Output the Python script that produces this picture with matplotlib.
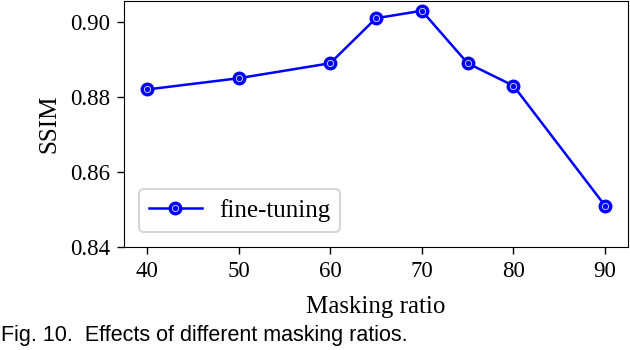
import matplotlib
matplotlib.use("Agg")
import matplotlib.pyplot as plt
from matplotlib.legend_handler import HandlerTuple

plt.rcParams['font.family'] = ['Liberation Serif', 'DejaVu Serif']
plt.rcParams['font.size'] = 18

ratios = [40, 50, 60, 65, 70, 75, 80, 90]
ssim = [0.882, 0.885, 0.889, 0.901, 0.903, 0.889, 0.883, 0.851]
yticks = [0.84, 0.86, 0.88, 0.90]
xticks = [40, 50, 60, 70, 80, 90]

fig = plt.figure(figsize=(6.3, 3.5), dpi=100)
ax = fig.add_axes([124 / 630, 1 - 247 / 350, 504 / 630, 246 / 350])

l1, = ax.plot(ratios, ssim, color='blue', lw=1.8, marker='o', ms=9,
              mfc='blue', mec='blue')
l2, = ax.plot(ratios, ssim, ls='none', marker='o', ms=4.5,
              mfc='none', mec='#c8c8ff', mew=0.7)

ax.set_ylim(bottom=0.84)
ax.set_yticks(yticks)
ax.set_xticks(xticks)
ax.tick_params(labelsize=16.5, length=5, width=1, pad=5)
ax.set_xlabel('Masking ratio', labelpad=10)
ax.set_ylabel('SSIM', labelpad=7)
leg = ax.legend([(l1, l2)], ['fine-tuning'], loc='lower left',
                handler_map={tuple: HandlerTuple(ndivide=1, pad=0)},
                borderaxespad=0.6, handlelength=2.1, handletextpad=0.7,
                fontsize=18, borderpad=0.4)
leg.get_frame().set_linewidth(1.5)

fig.text(0.002, 0.04, 'Fig. 10.  Effects of different masking ratios.',
         family='Liberation Sans', fontsize=15.5, va='center', ha='left')

fig.savefig('out.png', dpi=100)
